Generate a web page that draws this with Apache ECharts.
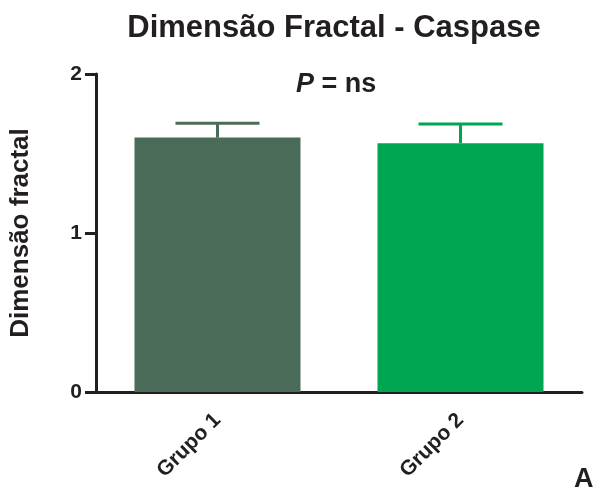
<!DOCTYPE html>
<html>
<head>
<meta charset="utf-8">
<script src="https://cdn.jsdelivr.net/npm/echarts@6/dist/echarts.min.js"></script>
<style>
  html, body { margin: 0; padding: 0; background: #fff; }
  #chart { width: 597px; height: 492px; }
</style>
</head>
<body>
<div id="chart"></div>
<script>
// Fractal dimension by group (mean and upper SEM)
const categories = ['Grupo 1', 'Grupo 2'];
const means = [1.60, 1.565];
const errors = [0.09, 0.12];
const barColors = ['#4a6b58', '#00a651'];
const yTicks = [0, 1, 2];

const FONT = '"Liberation Sans", Arial, Helvetica, sans-serif';
const INK = '#231f20';

const chart = echarts.init(document.getElementById('chart'), null, { renderer: 'canvas' });

const barData = means.map((v, i) => ({ value: v, itemStyle: { color: barColors[i] } }));
const errData = means.map((v, i) => [i, v, v + errors[i]]);

chart.setOption({
  animation: false,
  backgroundColor: '#ffffff',
  title: {
    text: 'Dimensão Fractal - Caspase',
    left: 329,
    textAlign: 'center',
    top: 8,
    textStyle: { fontFamily: FONT, fontWeight: 'bold', fontSize: 31, color: INK }
  },
  grid: { left: 94, right: 15, top: 74, bottom: 100, containLabel: false },
  xAxis: {
    type: 'category',
    data: categories,
    axisLine: { lineStyle: { color: INK, width: 3 } },
    axisTick: { alignWithLabel: true, length: 12, lineStyle: { color: INK, width: 3 } },
    axisLabel: {
      rotate: 45, margin: 25, interval: 0,
      fontFamily: FONT, fontWeight: 'bold', fontSize: 21, color: INK
    }
  },
  yAxis: {
    type: 'value',
    min: yTicks[0],
    max: yTicks[yTicks.length - 1],
    interval: 1,
    name: 'Dimensão fractal',
    nameLocation: 'middle',
    nameRotate: 90,
    nameGap: 62,
    nameTextStyle: { fontFamily: FONT, fontWeight: 'bold', fontSize: 26, color: INK },
    axisLine: { show: true, lineStyle: { color: INK, width: 3 } },
    axisTick: { show: true, inside: false, length: 11, lineStyle: { color: INK, width: 3 } },
    axisLabel: { margin: 14, fontFamily: FONT, fontWeight: 'bold', fontSize: 21, color: INK },
    splitLine: { show: false }
  },
  series: [
    {
      type: 'bar',
      data: barData,
      barWidth: 166,
      z: 2
    },
    {
      type: 'custom',
      data: errData,
      z: 3,
      renderItem: function (params, api) {
        const i = api.value(0);
        const base = api.coord([i, api.value(1)]);
        const top = api.coord([i, api.value(2)]);
        const half = 42;
        const color = barColors[params.dataIndex];
        const style = { stroke: color, lineWidth: 3, fill: null };
        return {
          type: 'group',
          children: [
            { type: 'line', shape: { x1: base[0], y1: base[1], x2: top[0], y2: top[1] }, style: style },
            { type: 'line', shape: { x1: top[0] - half, y1: top[1], x2: top[0] + half, y2: top[1] }, style: style }
          ]
        };
      }
    }
  ],
  graphic: [
    {
      type: 'text',
      left: 296,
      top: 71,
      style: {
        text: '{p|P} = ns',
        font: 'bold 27px ' + FONT,
        fill: INK,
        rich: {
          p: { fontFamily: FONT, fontWeight: 'bold', fontStyle: 'italic', fontSize: 27, fill: INK }
        }
      }
    },
    {
      type: 'text',
      left: 574,
      top: 466,
      style: { text: 'A', font: 'bold 27px ' + FONT, fill: INK }
    }
  ]
});
</script>
</body>
</html>
